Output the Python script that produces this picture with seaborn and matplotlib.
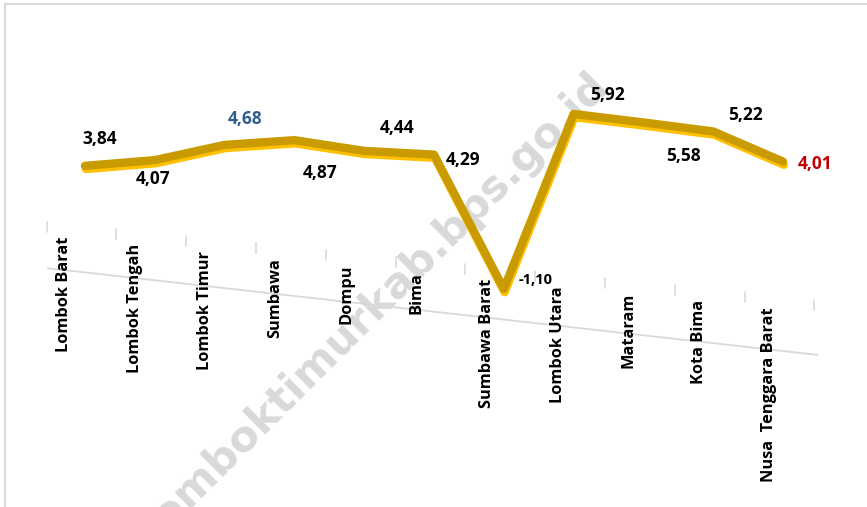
import matplotlib
matplotlib.use("Agg")
import matplotlib.pyplot as plt
import matplotlib.patheffects as pe
import matplotlib.transforms as mtransforms
from matplotlib.patches import Rectangle
import pandas as pd
import seaborn as sns

# data
regions = [
    "Lombok Barat", "Lombok Tengah", "Lombok Timur", "Sumbawa", "Dompu", "Bima",
    "Sumbawa Barat", "Lombok Utara", "Mataram", "Kota Bima", "Nusa  Tenggara Barat",
]
values = [3.84, 4.07, 4.68, 4.87, 4.44, 4.29, -1.10, 5.92, 5.58, 5.22, 4.01]
value_labels = ["3,84", "4,07", "4,68", "4,87", "4,44", "4,29", "-1,10", "5,92", "5,58", "5,22", "4,01"]

# label placement (pixels, relative to the point) and colours
label_offsets = [(15, 27), (-2, -19), (20, 26), (26, -33), (33, 23), (29, -5),
                 (32, 9), (34, 19), (40, -34), (32, 16), (32, -2)]
label_colors = ["black"] * 11
label_colors[2] = "#2E5D8C"
label_colors[10] = "#C00000"

PX0, STEP = 85, 69.8  # pixel of first category, pixels per category


def main():
    df = pd.DataFrame({"pos": range(len(regions)), "value": values})

    sns.set_theme(style="white")
    plt.rcParams["font.family"] = ["Open Sans", "DejaVu Sans"]

    fig = plt.figure(figsize=(8.67, 5.07), dpi=100)
    ax = fig.add_axes([0, 0, 1, 1])
    ax.set_xlim(-PX0 / STEP, (867 - PX0) / STEP)
    ax.set_ylim(-9.84, 10.49)
    ax.set_axis_off()

    # watermark (behind everything)
    ax.text(375 / 867, 1 - 305 / 507, "lomboktimurkab.bps.go.id", rotation=45,
            transform=fig.transFigure, fontsize=31, fontweight="bold", color="#D9D9D9",
            ha="center", va="center", rotation_mode="anchor",
            family=["DejaVu Sans"], zorder=0)

    # floor line
    ax.plot([0.055, 0.943], [0.471, 0.300], transform=ax.transAxes,
            color="#D9D9D9", lw=1.3, zorder=1)

    # small tick marks
    trans = mtransforms.blended_transform_factory(ax.transData, ax.transAxes)
    for k in range(len(regions) + 1):
        xd = k - 0.55
        xpx = PX0 + STEP * xd
        ytop = 222 + 0.101 * (xpx - 47)
        ax.plot([xd, xd], [1 - ytop / 507, 1 - (ytop + 10) / 507], transform=trans,
                color="#D9D9D9", lw=1.2, zorder=1)

    # ribbon line
    sns.lineplot(data=df, x="pos", y="value", ax=ax, color="#C99B00", lw=6,
                 sort=False, zorder=3,
                 path_effects=[pe.SimpleLineShadow(offset=(0.6, -2.3), shadow_color="#FFC000",
                                                   alpha=1, rho=1),
                               pe.Normal()])
    ax.set_axis_off()

    # value labels
    for i, (v, txt) in enumerate(zip(values, value_labels)):
        dx, dy = label_offsets[i]
        ax.annotate(txt, (i, v), xytext=(dx, dy), textcoords="offset pixels",
                    ha="center", va="center", fontsize=10.5 if i == 6 else 12.5,
                    fontweight="bold", color=label_colors[i], zorder=5)

    # category labels on the slanted floor
    for i, name in enumerate(regions):
        ax.text(i - 0.3 + 0.01 * i, 1 - (237 + 7 * i) / 507, name, transform=trans,
                rotation=90, ha="center", va="top", fontsize=11.8,
                fontweight="bold", color="black", zorder=4)

    # light frame
    fig.patches.append(Rectangle((0.006, -0.05), 1.1, 1.042, transform=fig.transFigure,
                                 fill=False, edgecolor="#D9D9D9", lw=1.5))

    fig.savefig("out.png", dpi=100)


if __name__ == "__main__":
    main()
